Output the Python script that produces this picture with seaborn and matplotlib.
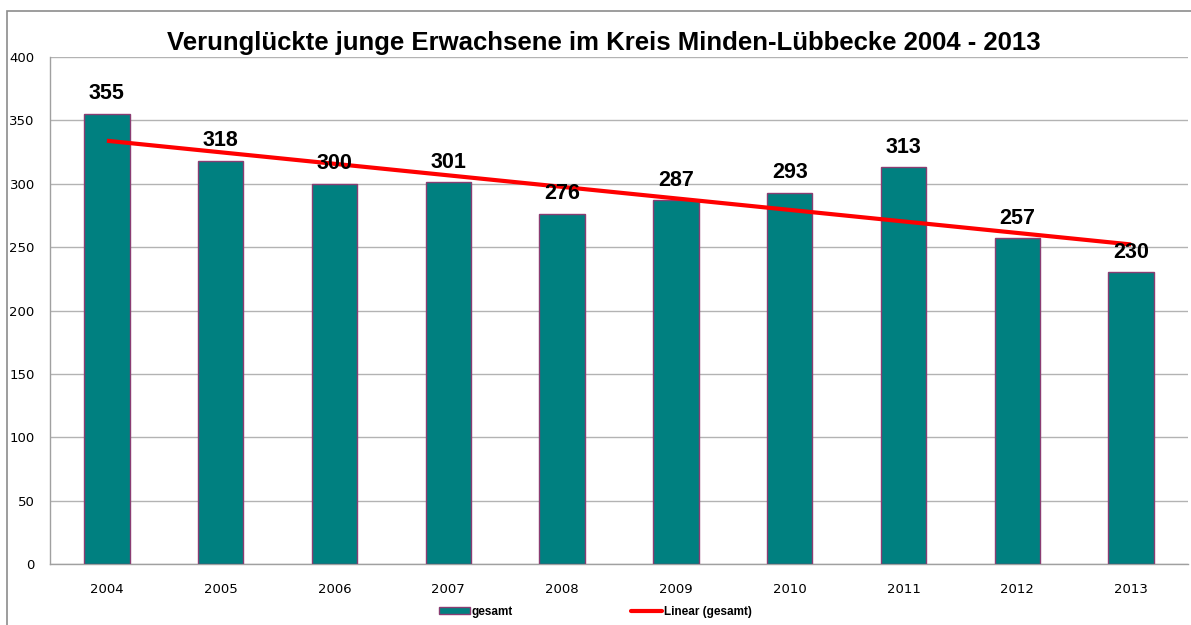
import numpy as np
import pandas as pd
import matplotlib
matplotlib.use('Agg')
import matplotlib.pyplot as plt
import seaborn as sns
from matplotlib.patches import Rectangle, Patch
from matplotlib.lines import Line2D

# Daten
jahre = ['2004', '2005', '2006', '2007', '2008', '2009', '2010', '2011', '2012', '2013']
gesamt = [355, 318, 300, 301, 276, 287, 293, 313, 257, 230]

df = pd.DataFrame({'jahr': jahre, 'gesamt': gesamt})

sns.set_style('white')
plt.rcParams['font.family'] = ['Liberation Sans', 'DejaVu Sans']
plt.rcParams['text.color'] = 'black'
plt.rcParams['xtick.labelcolor'] = 'black'
plt.rcParams['ytick.labelcolor'] = 'black'

fig = plt.figure(figsize=(11.91, 6.25), dpi=100)
ax = fig.add_axes([0.042, 0.0976, 0.9555, 0.8112])

# Rahmen um das Diagramm (rechts und unten abgeschnitten)
fig.patches.append(Rectangle((7 / 1191, -0.05), 1.1, 1 - 11 / 625 + 0.05,
                             transform=fig.transFigure, fill=False,
                             edgecolor='#8c8c8c', linewidth=1.2))

sns.barplot(data=df, x='jahr', y='gesamt', color='#008080', saturation=1,
            width=0.4, edgecolor='#8a3d72', linewidth=1, ax=ax, zorder=3)

# Linearer Trend
x = np.arange(len(gesamt))
m, b = np.polyfit(x, gesamt, 1)
ax.plot(x, m * x + b, color='#ff0000', linewidth=3, zorder=4, solid_capstyle='butt')

# Werte über den Balken
for i, v in enumerate(gesamt):
    ax.annotate(str(v), (i, v), xytext=(0, 7), textcoords='offset points',
                ha='center', va='bottom', fontsize=15.5, fontweight='bold',
                color='black', zorder=5)

ax.set_ylim(0, 400)
ax.set_xlim(-0.5, 9.5)
ax.set_yticks(range(0, 401, 50))
ax.yaxis.grid(True, color='#b3b3b3', linewidth=1)
ax.set_axisbelow(True)
ax.set_xlabel('')
ax.set_ylabel('')

for s in ['top', 'right']:
    ax.spines[s].set_visible(False)
for s in ['left', 'bottom']:
    ax.spines[s].set_color('#a0a0a0')
    ax.spines[s].set_linewidth(1)

ax.set_xticks(np.arange(-0.5, 10, 1), minor=True)
ax.tick_params(axis='x', which='major', length=0, pad=14, labelsize=9.5)
ax.tick_params(axis='x', which='minor', length=5, color='#a0a0a0', direction='out')
ax.tick_params(axis='y', length=5, color='#a0a0a0', direction='out', labelsize=9.5, pad=6)
for lab in ax.get_xticklabels() + ax.get_yticklabels():
    lab.set_family('DejaVu Sans')

ax.set_title('Verunglückte junge Erwachsene im Kreis Minden-Lübbecke 2004 - 2013',
             fontsize=18.5, fontweight='bold', pad=5, x=0.487, color='black')

handles = [Patch(facecolor='#008080', edgecolor='#8a3d72', label='gesamt'),
           Line2D([0], [0], color='#ff0000', linewidth=3, label='Linear (gesamt)')]
fig.legend(handles=handles, loc='center', bbox_to_anchor=(0.5, 0.021), ncol=2,
           frameon=False, prop={'size': 8.5, 'weight': 'bold'},
           handlelength=2.6, handleheight=0.6, columnspacing=10, handletextpad=0.2)

fig.savefig('out.png', dpi=100)
